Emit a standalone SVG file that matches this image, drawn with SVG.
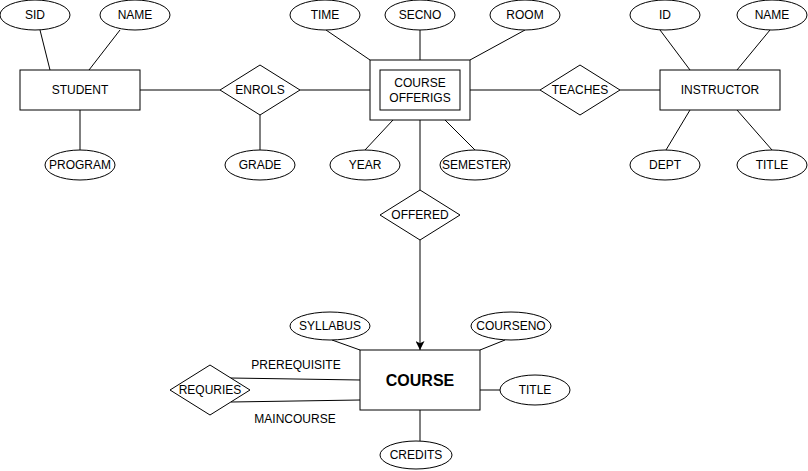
<svg xmlns="http://www.w3.org/2000/svg" width="808" height="471" viewBox="0 0 808 471">
<style>
.s{fill:#fff;stroke:#000;stroke-width:1}
.c line{stroke:#000;stroke-width:1}
text{font-family:"Liberation Sans",Arial,Helvetica,sans-serif;font-size:12px;fill:#000;text-anchor:middle;dominant-baseline:central}
.big{font-size:16px;font-weight:bold}
</style>
<defs>
<marker id="arr" viewBox="0 0 10 10" refX="10" refY="5" markerWidth="9" markerHeight="9" markerUnits="userSpaceOnUse" orient="auto">
<path d="M0,0 L10,5 L0,10 L2.5,5 z" fill="#000"/>
</marker>
</defs>
<rect width="808" height="471" fill="#fff"/>
<g class="c" id="connectors">
<line x1="40" y1="30" x2="50" y2="70"/>
<line x1="120" y1="30" x2="89" y2="70"/>
<line x1="80" y1="110" x2="80" y2="150"/>
<line x1="140" y1="90" x2="220" y2="90"/>
<line x1="260" y1="115" x2="260" y2="150"/>
<line x1="300" y1="90" x2="370" y2="90"/>
<line x1="326" y1="30" x2="370" y2="60"/>
<line x1="420" y1="30" x2="420" y2="60"/>
<line x1="525" y1="30" x2="470" y2="60"/>
<line x1="393" y1="120" x2="365" y2="150"/>
<line x1="445" y1="120" x2="475" y2="150"/>
<line x1="420" y1="120" x2="420" y2="190"/>
<line x1="420" y1="240" x2="420" y2="350" marker-end="url(#arr)"/>
<line x1="470" y1="90" x2="540" y2="90"/>
<line x1="620" y1="90" x2="660" y2="90"/>
<line x1="660" y1="30" x2="690" y2="70"/>
<line x1="770" y1="30" x2="737" y2="70"/>
<line x1="690" y1="110" x2="666" y2="150"/>
<line x1="737" y1="110" x2="772" y2="150"/>
<line x1="332" y1="340" x2="360" y2="350"/>
<line x1="505" y1="340" x2="480" y2="350"/>
<line x1="480" y1="390" x2="500" y2="390"/>
<line x1="420" y1="410" x2="420" y2="441"/>
<line x1="230" y1="378" x2="360" y2="380"/>
<line x1="231" y1="402" x2="360" y2="400"/>
</g>
<g id="student"><rect class="s" x="20" y="70" width="120" height="40"/><text x="80" y="90">STUDENT</text></g>
<g id="sid"><ellipse class="s" cx="35" cy="15" rx="35" ry="15"/><text x="35" y="15">SID</text></g>
<g id="sname"><ellipse class="s" cx="135" cy="15" rx="35" ry="15"/><text x="135" y="15">NAME</text></g>
<g id="program"><ellipse class="s" cx="80" cy="165" rx="35" ry="15"/><text x="80" y="165">PROGRAM</text></g>
<g id="enrols"><polygon class="s" points="260,65 300,90 260,115 220,90"/><text x="260" y="90">ENROLS</text></g>
<g id="grade"><ellipse class="s" cx="260" cy="165" rx="35" ry="15"/><text x="260" y="165">GRADE</text></g>
<g id="offerings"><rect class="s" x="370" y="60" width="100" height="60"/><rect class="s" x="380" y="70" width="80" height="40"/><text x="420" y="83">COURSE</text><text x="420" y="98">OFFERIGS</text></g>
<g id="time"><ellipse class="s" cx="325" cy="15" rx="35" ry="15"/><text x="325" y="15">TIME</text></g>
<g id="secno"><ellipse class="s" cx="420" cy="15" rx="35" ry="15"/><text x="420" y="15">SECNO</text></g>
<g id="room"><ellipse class="s" cx="525" cy="15" rx="35" ry="15"/><text x="525" y="15">ROOM</text></g>
<g id="year"><ellipse class="s" cx="365" cy="165" rx="35" ry="15"/><text x="365" y="165">YEAR</text></g>
<g id="semester"><ellipse class="s" cx="475" cy="165" rx="35" ry="15"/><text x="475" y="165">SEMESTER</text></g>
<g id="offered"><polygon class="s" points="420,190 460,215 420,240 380,215"/><text x="420" y="215">OFFERED</text></g>
<g id="teaches"><polygon class="s" points="580,65 620,90 580,115 540,90"/><text x="580" y="90">TEACHES</text></g>
<g id="instructor"><rect class="s" x="660" y="70" width="120" height="40"/><text x="720" y="90">INSTRUCTOR</text></g>
<g id="id"><ellipse class="s" cx="665" cy="15" rx="35" ry="15"/><text x="665" y="15">ID</text></g>
<g id="iname"><ellipse class="s" cx="772" cy="15" rx="35" ry="15"/><text x="772" y="15">NAME</text></g>
<g id="dept"><ellipse class="s" cx="665" cy="165" rx="35" ry="15"/><text x="665" y="165">DEPT</text></g>
<g id="ititle"><ellipse class="s" cx="772" cy="165" rx="35" ry="15"/><text x="772" y="165">TITLE</text></g>
<g id="course"><rect class="s" x="360" y="350" width="120" height="60"/><text class="big" x="420" y="380">COURSE</text></g>
<g id="syllabus"><ellipse class="s" cx="330" cy="326" rx="40" ry="14"/><text x="330" y="326">SYLLABUS</text></g>
<g id="courseno"><ellipse class="s" cx="511" cy="326" rx="40" ry="14"/><text x="511" y="326">COURSENO</text></g>
<g id="ctitle"><ellipse class="s" cx="535" cy="390" rx="35" ry="15"/><text x="535" y="390">TITLE</text></g>
<g id="credits"><ellipse class="s" cx="416" cy="455" rx="36" ry="14"/><text x="416" y="455">CREDITS</text></g>
<g id="requries"><polygon class="s" points="210,365 250,390 210,415 170,390"/><text x="210" y="390">REQURIES</text></g>
<g id="labels"><text x="296" y="365">PREREQUISITE</text><text x="295" y="419">MAINCOURSE</text></g>
</svg>
